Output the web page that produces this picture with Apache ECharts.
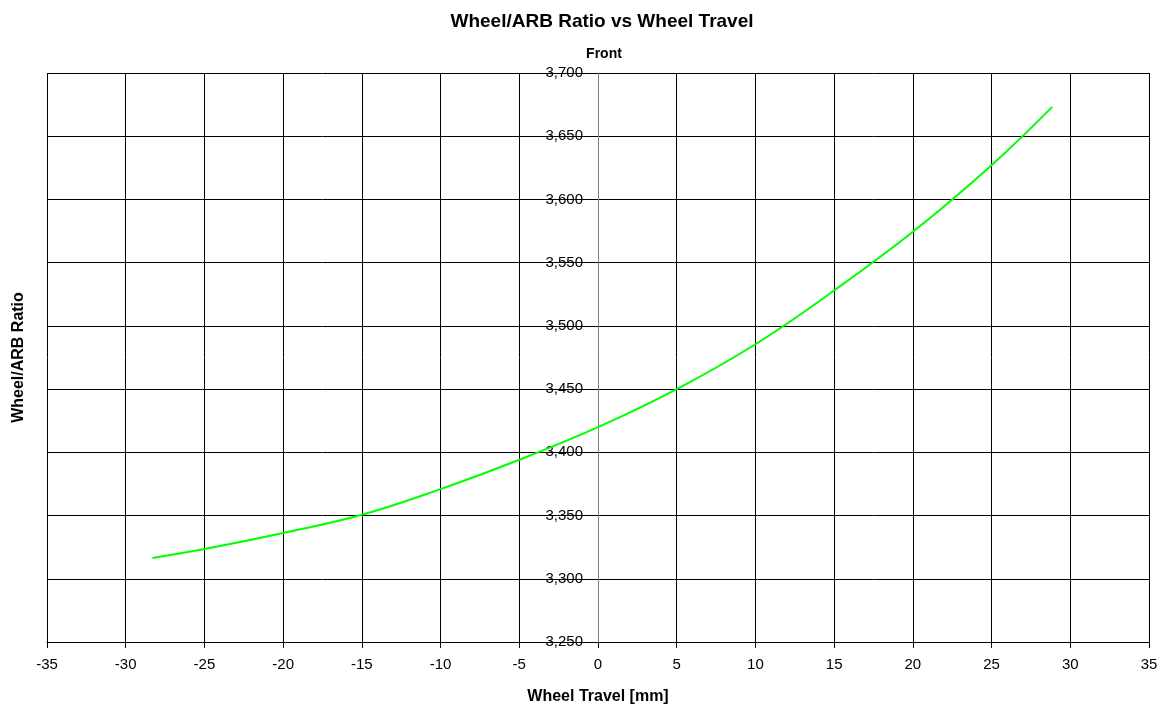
<!DOCTYPE html>
<html>
<head>
<meta charset="utf-8">
<script src="https://cdn.jsdelivr.net/npm/echarts@6/dist/echarts.min.js"></script>
<style>html,body{margin:0;padding:0;background:#fff}#c{width:1167px;height:710px}</style>
</head>
<body>
<div id="c"></div>
<script>
const travel = [-28.3, -25, -20, -15, -10, -5, 0, 5, 10, 15, 20, 25, 28.85];
const ratio  = [3.3165, 3.3235, 3.3362, 3.3506, 3.3709, 3.3941, 3.4199, 3.4500, 3.4855, 3.5280, 3.5744, 3.6271, 3.6732];
const titleText = 'Wheel/ARB Ratio vs Wheel Travel';
const subtitleText = 'Front';
const xName = 'Wheel Travel [mm]';
const yName = 'Wheel/ARB Ratio';

const chart = echarts.init(document.getElementById('c'), null, {renderer: 'canvas'});
const font = 'Liberation Sans, Arial, sans-serif';
const gridLeft = 47, gridRight = 18, W = 1167;
const zeroOffset = -((W - gridLeft - gridRight) * 35 / 70);
chart.setOption({
  animation: false,
  backgroundColor: '#fff',
  title: [
    {text: titleText, left: 597, top: 7, textAlign: 'center',
     textStyle: {fontFamily: font, fontSize: 19, fontWeight: 'bold', color: '#000'}},
    {text: subtitleText, left: 599, top: 42, textAlign: 'center',
     textStyle: {fontFamily: font, fontSize: 14, fontWeight: 'bold', color: '#000'}}
  ],
  grid: {left: gridLeft, right: gridRight, top: 73, bottom: 68, containLabel: false, outerBoundsMode: 'none'},
  xAxis: {
    type: 'value', min: -35, max: 35, interval: 5,
    name: xName, nameLocation: 'middle', nameGap: 47,
    nameTextStyle: {fontFamily: font, fontSize: 16, fontWeight: 'bold', color: '#000'},
    axisLine: {show: true, onZero: false, lineStyle: {color: '#000', width: 1}},
    axisTick: {show: true, length: 6, lineStyle: {color: '#000'}},
    axisLabel: {fontFamily: font, fontSize: 15, color: '#000', margin: 15},
    splitLine: {show: true, lineStyle: {color: '#000', width: 1}}
  },
  yAxis: {
    type: 'value', min: 3.25, max: 3.7, interval: 0.05,
    offset: zeroOffset,
    name: yName, nameLocation: 'middle', nameGap: 571, nameRotate: 90,
    nameTextStyle: {fontFamily: font, fontSize: 16, fontWeight: 'bold', color: '#000'},
    axisLine: {show: true, onZero: false, lineStyle: {color: '#808080', width: 1}},
    axisTick: {show: true, length: 4, lineStyle: {color: '#000'}},
    axisLabel: {fontFamily: font, fontSize: 15, color: '#000', margin: 15,
      formatter: v => v.toFixed(3).replace('.', ',')},
    splitLine: {show: true, lineStyle: {color: '#000', width: 1}}
  },
  series: [{
    type: 'line', data: travel.map((x, i) => [x, ratio[i]]),
    smooth: 0.4, showSymbol: false, symbol: 'none',
    lineStyle: {color: '#00ff00', width: 2}, z: 5
  }]
});
</script>
</body>
</html>
